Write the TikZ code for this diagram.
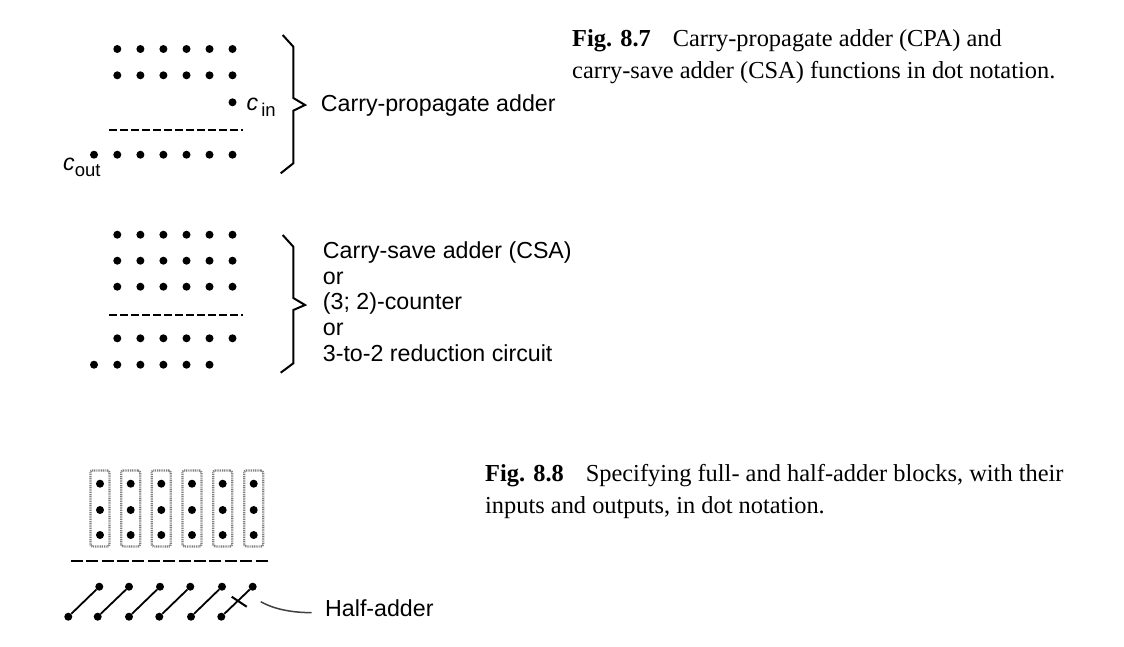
\documentclass[tikz,border=0pt]{standalone}
\usepackage{fontspec}
\setmainfont{Liberation Serif}
\setsansfont{Liberation Sans}
\newcommand{\subl}[2]{{\itshape c}\hspace{#1}\raisebox{-6.5pt}{\fontsize{18.5}{19}\selectfont #2}}
\tikzset{
  dotn/.style={circle, fill=black, inner sep=0pt, minimum size=8pt},
  rule/.style={line width=1.8pt, dash pattern=on 8pt off 3pt},
  longrule/.style={line width=1.8pt, dash pattern=on 12pt off 3.4pt},
  bracket/.style={line width=2pt, line join=miter},
  blockbox/.style={draw=black!50, line width=2.2pt, dash pattern=on 1pt off 0.8pt, rounded corners=2pt, minimum width=19pt, minimum height=76pt, inner sep=0pt},
  label/.style={font=\sffamily\fontsize{23.2}{25.7}\selectfont, anchor=base west, inner sep=0pt},
  capt/.style={font=\fontsize{24.4}{30}\selectfont, anchor=base west, inner sep=0pt}
}
\begin{document}
\begin{tikzpicture}[x=1pt, y=-1pt]
\useasboundingbox (0,0) rectangle (1124,646);
% carry-propagate adder
\foreach \i/\x in {1/117.3, 2/140.4, 3/163.4, 4/186.5, 5/209.5, 6/232.5} {
  \node[dotn] (a\i) at (\x,49) {};
  \node[dotn] (b\i) at (\x,75.3) {};
  \node[dotn] (s\i) at (\x,154.7) {};
}
\node[dotn] (cin) at (232.5,102.3) {};
\node[dotn] (cout) at (94,154.7) {};
\coordinate (r1) at (109,130.3);
\coordinate (r2) at (243,130.3);
\draw[rule] (r1) -- (r2);
\node[label] (cinl) at (246.5,110) {\subl{3pt}{in}};
\node[label] (coutl) at (63,170) {\subl{0pt}{out}};
\draw[bracket] (282.7,35) -- (293.3,46.7) -- (293.3,98) -- (305,105) -- (293.3,110.7) -- (293.3,163.3) -- (280.7,173.3);
\node[label] (cpa) at (320.7,111.7) {Carry-propagate adder};
% carry-save adder
\foreach \i/\x in {1/117.3, 2/140.4, 3/163.4, 4/186.5, 5/209.5, 6/232.5} {
  \node[dotn] (c\i) at (\x,234.7) {};
  \node[dotn] (d\i) at (\x,260.7) {};
  \node[dotn] (e\i) at (\x,286.7) {};
  \node[dotn] (f\i) at (\x,338.3) {};
}
\foreach \i/\x in {1/94, 2/117.3, 3/140.4, 4/163.4, 5/186.5, 6/209.5} {
  \node[dotn] (g\i) at (\x,364.7) {};
}
\coordinate (r3) at (109,314.7);
\coordinate (r4) at (243,314.7);
\draw[rule] (r3) -- (r4);
\draw[bracket] (282.7,235) -- (293.3,246.7) -- (293.3,298) -- (305,305) -- (293.3,310) -- (293.3,363.3) -- (280.7,372.7);
\node[label, align=left, anchor=north west] (csa) at (322.7,241.5) {Carry-save adder (CSA)\\or\\(3; 2)-counter\\or\\3-to-2 reduction circuit};
% full- and half-adder blocks
\foreach \i/\x in {1/100, 2/130.7, 3/161.3, 4/192, 5/222.7, 6/253.7} {
  \node[blockbox] (box\i) at (\x,508.5) {};
  \node[dotn] (h\i) at (\x,483.7) {};
  \node[dotn] (k\i) at (\x,510) {};
  \node[dotn] (m\i) at (\x,535) {};
}
\coordinate (r5) at (70.7,561);
\coordinate (r6) at (268,561);
\draw[longrule] (r5) -- (r6);
\foreach \i/\x/\u in {1/99.3/68.3, 2/129/97.7, 3/160/129, 4/190.3/159.3, 5/222/191, 6/252.7/221.3} {
  \node[dotn] (p\i) at (\x,586.7) {};
  \node[dotn] (q\i) at (\u,616.7) {};
  \draw[line width=1.8pt] (p\i) -- (q\i);
}
\coordinate (x1) at (231.7,596.7);
\coordinate (x2) at (246.7,606.7);
\draw[line width=2pt] (x1) -- (x2);
\coordinate (t1) at (260.7,601.7);
\coordinate (t2) at (311.7,612.7);
\draw[line width=1.5pt, black!75] (t1) .. controls (272,608) and (288,612.5) .. (t2);
\node[label] (ha) at (325,616) {Half-adder};
% captions
\node[capt] (f87) at (572,46.7) {\textbf{Fig. 8.7}\hspace{0.9em}Carry-propagate adder (CPA) and};
\node[capt] (f87b) at (572,78.3) {carry-save adder (CSA) functions in dot notation.};
\node[capt] (f88) at (485,481.7) {\textbf{Fig. 8.8}\hspace{0.9em}Specifying full- and half-adder blocks, with their};
\node[capt] (f88b) at (485,513.3) {inputs and outputs, in dot notation.};
\end{tikzpicture}
\end{document}
